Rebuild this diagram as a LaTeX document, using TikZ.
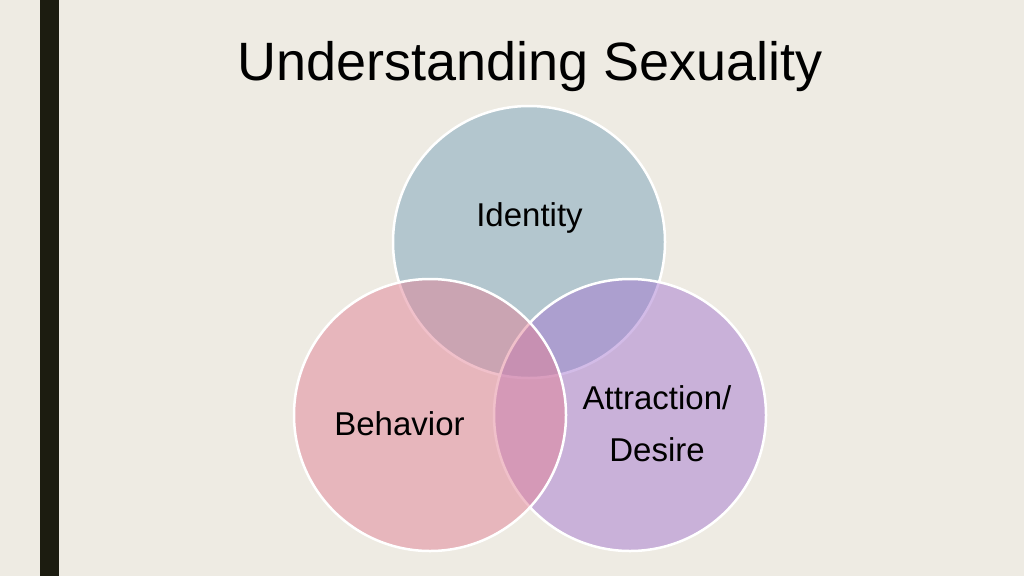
\documentclass[tikz,border=0pt]{standalone}
\usepackage{fontspec}
\setmainfont{Liberation Sans}
\definecolor{bg}{RGB}{238,235,227}
\definecolor{barc}{RGB}{28,28,16}
\definecolor{cTop}{RGB}{122,163,187}
\definecolor{cLeft}{RGB}{226,131,151}
\definecolor{cRight}{RGB}{166,121,209}
\begin{document}
\begin{tikzpicture}[x=1pt,y=-1pt,
  venn/.style={circle, minimum size=272pt, inner sep=0pt, outer sep=0pt, draw=white, line width=2.5pt, fill opacity=0.5},
  lab/.style={font=\fontsize{33}{52}\selectfont, text=black, inner sep=0pt, align=center}]
\fill[bg] (0,0) rectangle (1024,576);
\useasboundingbox (0,0) rectangle (1024,576);
\fill[barc] (40,0) rectangle (59,576);
\node[font=\fontsize{54}{60}\selectfont, anchor=base, inner sep=0pt] (title) at (530,80) {Understanding Sexuality};
\node[venn, fill=cTop] (top) at (529,242) {};
\node[venn, fill=cRight] (right) at (630,415) {};
\node[venn, fill=cLeft] (left) at (430,415) {};
\node[lab, anchor=base] (idl) at (529.5,226) {Identity};
\node[lab, anchor=base] (behl) at (399.5,435.7) {Behavior};
\node[lab, anchor=base] (attrl) at (657,461.7) {Attraction/\\Desire};
\end{tikzpicture}
\end{document}
